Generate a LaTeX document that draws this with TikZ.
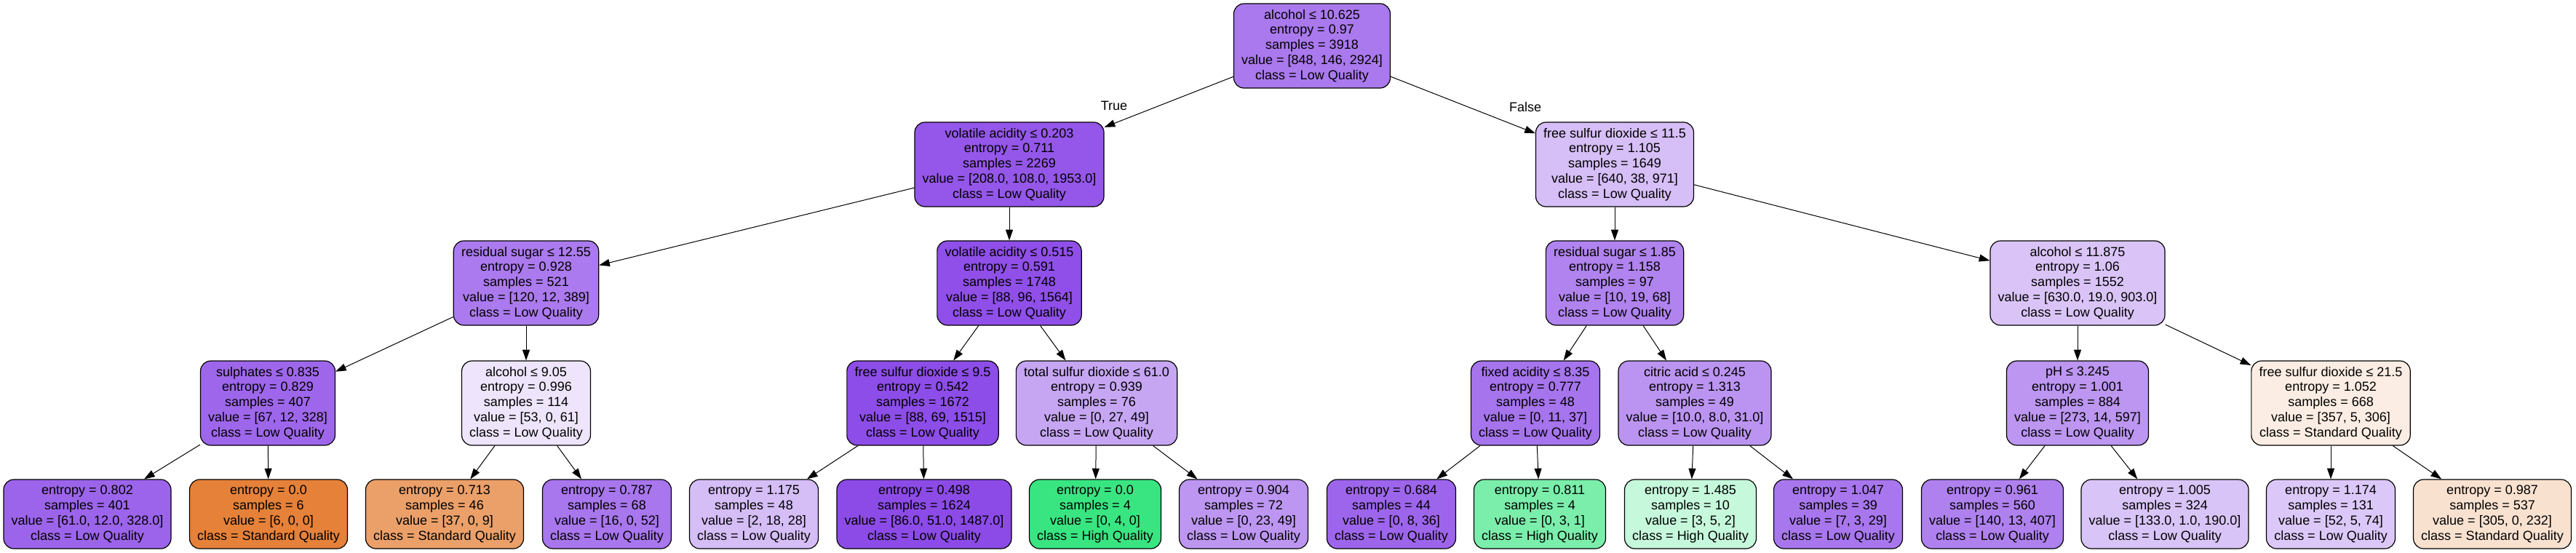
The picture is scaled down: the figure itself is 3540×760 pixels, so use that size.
\documentclass[tikz,border=0pt]{standalone}
\usepackage{fontspec}
\setmainfont{Liberation Sans}
\usetikzlibrary{arrows.meta}
\newcommand{\treefont}{\fontsize{13.5pt}{15.6pt}\selectfont}
% fill colours of the split nodes
\definecolor{cn0}{RGB}{170,121,237}
\definecolor{cn1}{RGB}{148,87,233}
\definecolor{cn2}{RGB}{214,190,246}
\definecolor{cn3}{RGB}{171,122,238}
\definecolor{cn4}{RGB}{143,79,232}
\definecolor{cn5}{RGB}{176,131,239}
\definecolor{cn6}{RGB}{218,196,247}
\definecolor{cn7}{RGB}{158,103,235}
\definecolor{cn8}{RGB}{238,229,252}
\definecolor{cn9}{RGB}{141,77,232}
\definecolor{cn10}{RGB}{198,166,243}
\definecolor{cn11}{RGB}{166,116,237}
\definecolor{cn12}{RGB}{187,148,241}
\definecolor{cn13}{RGB}{188,150,241}
\definecolor{cn14}{RGB}{251,237,227}
% fill colours of the leaves
\definecolor{cl1}{RGB}{156,100,235}
\definecolor{cl2}{RGB}{229,129,57}
\definecolor{cl3}{RGB}{235,160,105}
\definecolor{cl4}{RGB}{168,118,237}
\definecolor{cl5}{RGB}{213,189,246}
\definecolor{cl6}{RGB}{140,75,231}
\definecolor{cl7}{RGB}{57,229,129}
\definecolor{cl8}{RGB}{188,150,241}
\definecolor{cl9}{RGB}{157,101,235}
\definecolor{cl10}{RGB}{123,238,171}
\definecolor{cl11}{RGB}{198,248,219}
\definecolor{cl12}{RGB}{168,119,237}
\definecolor{cl13}{RGB}{175,129,238}
\definecolor{cl14}{RGB}{217,196,247}
\definecolor{cl15}{RGB}{220,200,248}
\definecolor{cl16}{RGB}{249,225,208}
\tikzset{
	tbox/.style={draw, line width=0.9pt, rounded corners=10.5pt, align=center, inner xsep=8pt, inner ysep=0pt, font=\treefont, fill=#1},
	inode/.style={tbox=#1, minimum height=87pt},
	leaf/.style={tbox=#1, minimum height=71.25pt},
	link/.style={line width=0.75pt, -{Triangle[length=11pt,width=7.5pt]}}
}

\begin{document}
\begin{tikzpicture}[x=0.75pt,y=-0.75pt]
	\useasboundingbox (0,0) rectangle (3540,760);

	\node [inode=cn0] (n0) at (1803,63) {alcohol ≤ 10.625\\entropy = 0.97\\samples = 3918\\value = [848, 146, 2924]\\class = Low Quality};

	\node [inode=cn1] (n1) at (1387,226) {volatile acidity ≤ 0.203\\entropy = 0.711\\samples = 2269\\value = [208.0, 108.0, 1953.0]\\class = Low Quality};
	\node [inode=cn2] (n2) at (2219,226) {free sulfur dioxide ≤ 11.5\\entropy = 1.105\\samples = 1649\\value = [640, 38, 971]\\class = Low Quality};

	\node [inode=cn3] (n3) at (723,389) {residual sugar ≤ 12.55\\entropy = 0.928\\samples = 521\\value = [120, 12, 389]\\class = Low Quality};
	\node [inode=cn4] (n4) at (1387,389) {volatile acidity ≤ 0.515\\entropy = 0.591\\samples = 1748\\value = [88, 96, 1564]\\class = Low Quality};
	\node [inode=cn5] (n5) at (2219,389) {residual sugar ≤ 1.85\\entropy = 1.158\\samples = 97\\value = [10, 19, 68]\\class = Low Quality};
	\node [inode=cn6] (n6) at (2855,389) {alcohol ≤ 11.875\\entropy = 1.06\\samples = 1552\\value = [630.0, 19.0, 903.0]\\class = Low Quality};

	\node [inode=cn7] (n7) at (368,554) {sulphates ≤ 0.835\\entropy = 0.829\\samples = 407\\value = [67, 12, 328]\\class = Low Quality};
	\node [inode=cn8] (n8) at (723,554) {alcohol ≤ 9.05\\entropy = 0.996\\samples = 114\\value = [53, 0, 61]\\class = Low Quality};
	\node [inode=cn9] (n9) at (1268,554) {free sulfur dioxide ≤ 9.5\\entropy = 0.542\\samples = 1672\\value = [88, 69, 1515]\\class = Low Quality};
	\node [inode=cn10] (n10) at (1507,554) {total sulfur dioxide ≤ 61.0\\entropy = 0.939\\samples = 76\\value = [0, 27, 49]\\class = Low Quality};
	\node [inode=cn11] (n11) at (2110,554) {fixed acidity ≤ 8.35\\entropy = 0.777\\samples = 48\\value = [0, 11, 37]\\class = Low Quality};
	\node [inode=cn12] (n12) at (2329,554) {citric acid ≤ 0.245\\entropy = 1.313\\samples = 49\\value = [10.0, 8.0, 31.0]\\class = Low Quality};
	\node [inode=cn13] (n13) at (2855,554) {pH ≤ 3.245\\entropy = 1.001\\samples = 884\\value = [273, 14, 597]\\class = Low Quality};
	\node [inode=cn14] (n14) at (3203,554) {free sulfur dioxide ≤ 21.5\\entropy = 1.052\\samples = 668\\value = [357, 5, 306]\\class = Standard Quality};

	\node [leaf=cl1] (l1) at (120,706.5) {entropy = 0.802\\samples = 401\\value = [61.0, 12.0, 328.0]\\class = Low Quality};
	\node [leaf=cl2] (l2) at (369,706.5) {entropy = 0.0\\samples = 6\\value = [6, 0, 0]\\class = Standard Quality};
	\node [leaf=cl3] (l3) at (611,706.5) {entropy = 0.713\\samples = 46\\value = [37, 0, 9]\\class = Standard Quality};
	\node [leaf=cl4] (l4) at (834,706.5) {entropy = 0.787\\samples = 68\\value = [16, 0, 52]\\class = Low Quality};
	\node [leaf=cl5] (l5) at (1036,706.5) {entropy = 1.175\\samples = 48\\value = [2, 18, 28]\\class = Low Quality};
	\node [leaf=cl6] (l6) at (1270,706.5) {entropy = 0.498\\samples = 1624\\value = [86.0, 51.0, 1487.0]\\class = Low Quality};
	\node [leaf=cl7] (l7) at (1505,706.5) {entropy = 0.0\\samples = 4\\value = [0, 4, 0]\\class = High Quality};
	\node [leaf=cl8] (l8) at (1709,706.5) {entropy = 0.904\\samples = 72\\value = [0, 23, 49]\\class = Low Quality};
	\node [leaf=cl9] (l9) at (1912,706.5) {entropy = 0.684\\samples = 44\\value = [0, 8, 36]\\class = Low Quality};
	\node [leaf=cl10] (l10) at (2116,706.5) {entropy = 0.811\\samples = 4\\value = [0, 3, 1]\\class = High Quality};
	\node [leaf=cl11] (l11) at (2323,706.5) {entropy = 1.485\\samples = 10\\value = [3, 5, 2]\\class = High Quality};
	\node [leaf=cl12] (l12) at (2526,706.5) {entropy = 1.047\\samples = 39\\value = [7, 3, 29]\\class = Low Quality};
	\node [leaf=cl13] (l13) at (2738,706.5) {entropy = 0.961\\samples = 560\\value = [140, 13, 407]\\class = Low Quality};
	\node [leaf=cl14] (l14) at (2975,706.5) {entropy = 1.005\\samples = 324\\value = [133.0, 1.0, 190.0]\\class = Low Quality};
	\node [leaf=cl15] (l15) at (3203,706.5) {entropy = 1.174\\samples = 131\\value = [52, 5, 74]\\class = Low Quality};
	\node [leaf=cl16] (l16) at (3425,706.5) {entropy = 0.987\\samples = 537\\value = [305, 0, 232]\\class = Standard Quality};

	\node [font=\treefont] (ltrue) at (1531,145) {True};
	\node [font=\treefont] (lfalse) at (2096,147) {False};

	\draw [link] (n0) -- (n1);
	\draw [link] (n0) -- (n2);
	\draw [link] (n1) -- (n3);
	\draw [link] (n1) -- (n4);
	\draw [link] (n2) -- (n5);
	\draw [link] (n2) -- (n6);
	\draw [link] (n3) -- (n7);
	\draw [link] (n3) -- (n8);
	\draw [link] (n4) -- (n9);
	\draw [link] (n4) -- (n10);
	\draw [link] (n5) -- (n11);
	\draw [link] (n5) -- (n12);
	\draw [link] (n6) -- (n13);
	\draw [link] (n6) -- (n14);
	\draw [link] (n7) -- (l1);
	\draw [link] (n7) -- (l2);
	\draw [link] (n8) -- (l3);
	\draw [link] (n8) -- (l4);
	\draw [link] (n9) -- (l5);
	\draw [link] (n9) -- (l6);
	\draw [link] (n10) -- (l7);
	\draw [link] (n10) -- (l8);
	\draw [link] (n11) -- (l9);
	\draw [link] (n11) -- (l10);
	\draw [link] (n12) -- (l11);
	\draw [link] (n12) -- (l12);
	\draw [link] (n13) -- (l13);
	\draw [link] (n13) -- (l14);
	\draw [link] (n14) -- (l15);
	\draw [link] (n14) -- (l16);
\end{tikzpicture}
\end{document}
